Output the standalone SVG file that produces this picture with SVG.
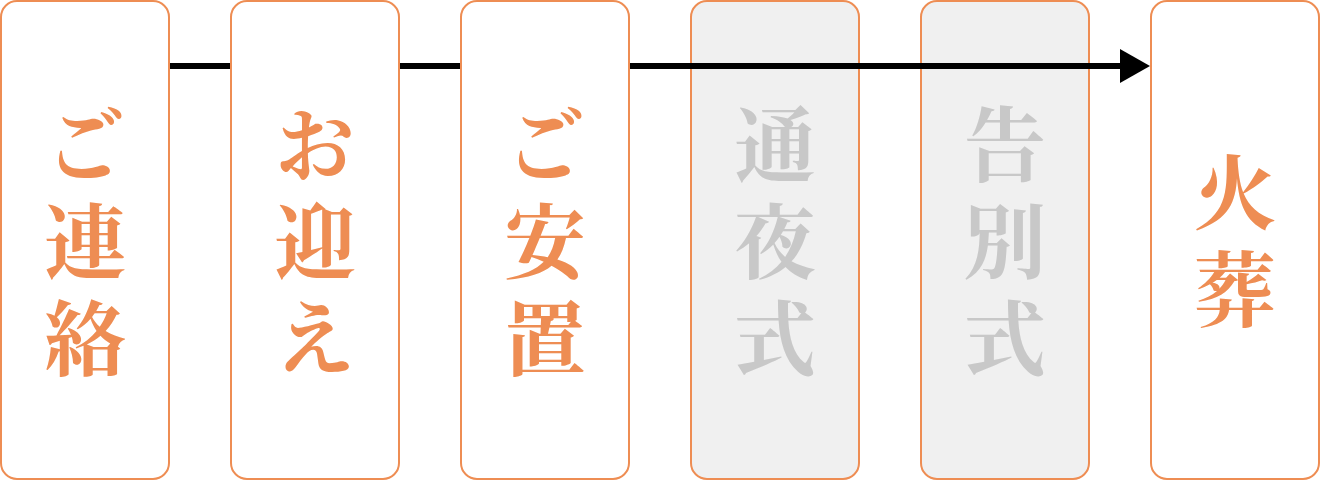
<svg xmlns="http://www.w3.org/2000/svg" width="1320" height="480" viewBox="0 0 1320 480">
<defs>
<style>
.box{fill:#ffffff;stroke:#EE8D53;stroke-width:2}
.box.off{fill:#F0F0F0}
.t{font-family:"Noto Serif CJK JP","Noto Sans CJK JP",serif;font-weight:700;font-size:82px;text-anchor:middle;writing-mode:vertical-rl;letter-spacing:15px;fill:#EE8D53}
.t.off{fill:#C8C8C8}
.conn{stroke:#000;stroke-width:6;fill:none}
</style>
</defs>
<g id="n4"><rect class="box off" x="691" y="1" width="168" height="478" rx="16"/>
<text class="t off" x="775" y="248">通夜式</text></g>
<g id="n5"><rect class="box off" x="921" y="1" width="168" height="478" rx="16"/>
<text class="t off" x="1005" y="248">告別式</text></g>
<g id="connectors">
<line class="conn" x1="169" y1="66" x2="1121" y2="66"/>
<path d="M1120,49 L1150,66 L1120,83 Z" fill="#000"/>
</g>
<g id="n1"><rect class="box" x="1" y="1" width="168" height="478" rx="16"/>
<text class="t" x="85" y="248">ご連絡</text></g>
<g id="n2"><rect class="box" x="231" y="1" width="168" height="478" rx="16"/>
<text class="t" x="315" y="248">お迎え</text></g>
<g id="n3"><rect class="box" x="461" y="1" width="168" height="478" rx="16"/>
<text class="t" x="545" y="248">ご安置</text></g>
<g id="n6"><rect class="box" x="1151" y="1" width="168" height="478" rx="16"/>
<text class="t" x="1235" y="248">火葬</text></g>
</svg>
